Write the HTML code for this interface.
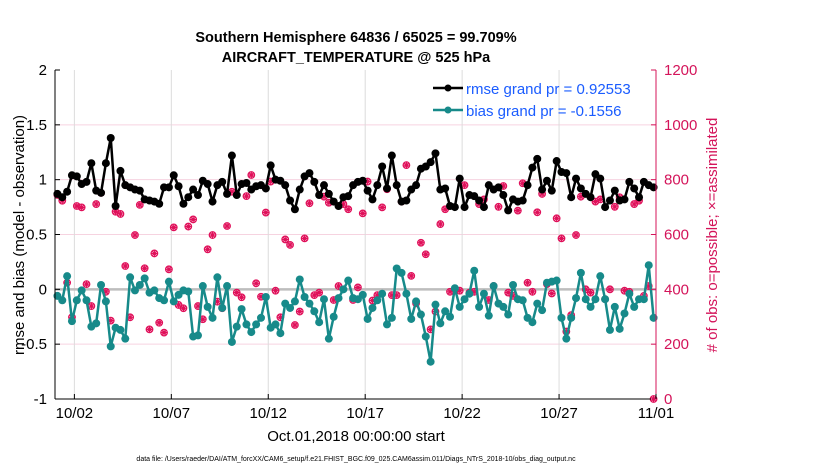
<!DOCTYPE html>
<html><head><meta charset="utf-8"><style>
body{margin:0;background:#fff;}
svg{display:block;font-family:"Liberation Sans",sans-serif;}
</style></head><body>
<svg id="chart" width="830" height="470" viewBox="0 0 830 470">
<text x="356" y="42" text-anchor="middle" font-size="14.5" font-weight="bold">Southern Hemisphere 64836 / 65025 = 99.709%</text>
<text x="356" y="62" text-anchor="middle" font-size="14.5" font-weight="bold">AIRCRAFT_TEMPERATURE @ 525 hPa</text>
<g id="grid"></g>
<g id="marks"></g>
<g id="axes"></g>
<text transform="translate(24,235) rotate(-90)" text-anchor="middle" font-size="15">rmse and bias (model - observation)</text>
<text transform="translate(717,235) rotate(-90)" text-anchor="middle" font-size="15" fill="#d4145a"># of obs: o=possible; ×=assimilated</text>
<text x="356" y="441" text-anchor="middle" font-size="15">Oct.01,2018 00:00:00 start</text>
<text x="356" y="461" text-anchor="middle" font-size="7">data file: /Users/raeder/DAI/ATM_forcXX/CAM6_setup/f.e21.FHIST_BGC.f09_025.CAM6assim.011/Diags_NTrS_2018-10/obs_diag_output.nc</text>
<g>
<line x1="433" y1="88" x2="463" y2="88" stroke="#000" stroke-width="2.5"/>
<circle cx="448" cy="88" r="3.5" fill="#000"/>
<text x="466" y="94" font-size="15" fill="#1a5cff">rmse grand pr = 0.92553</text>
<line x1="433" y1="110" x2="463" y2="110" stroke="#178a8a" stroke-width="2.5"/>
<circle cx="448" cy="110" r="3.5" fill="#178a8a"/>
<text x="466" y="116" font-size="15" fill="#1a5cff">bias grand pr = -0.1556</text>
</g>
</svg>
<script>
const rmse=[0.87,0.84,0.89,1.04,1.03,0.96,0.98,1.15,0.90,0.88,1.15,1.38,0.76,1.08,0.95,0.93,0.91,0.90,0.82,0.81,0.80,0.78,0.93,0.93,1.04,0.94,0.78,0.84,0.91,0.86,0.99,0.96,0.80,0.95,0.98,0.87,1.22,0.86,0.96,0.97,0.91,0.94,
0.95,0.92,1.13,1.00,0.99,0.95,0.81,0.73,0.91,1.03,1.06,0.98,0.86,0.95,0.87,0.80,0.76,0.84,0.85,0.95,0.98,0.99,0.90,0.82,0.95,1.12,0.92,1.22,0.95,0.80,0.81,0.91,0.95,1.10,1.12,1.16,1.24,0.91,0.92,0.76,0.75,1.01,
0.75,0.86,0.85,0.81,0.75,0.95,0.91,0.93,0.86,0.72,0.82,0.80,0.81,0.95,1.11,1.19,0.91,0.99,0.90,1.17,1.07,1.06,0.84,1.01,0.92,0.87,0.84,1.05,1.01,0.75,0.81,0.90,0.81,0.82,0.98,0.92,0.84,0.98,0.95,0.93];
const bias=[-0.06,-0.10,0.12,-0.29,-0.10,-0.01,-0.10,-0.34,-0.31,0.04,-0.11,-0.52,-0.35,-0.37,-0.45,0.11,-0.01,0.04,0.10,-0.03,-0.01,-0.08,-0.10,0.07,-0.11,-0.05,-0.01,-0.02,-0.43,-0.42,0.03,-0.16,-0.26,0.11,-0.17,0.03,-0.48,-0.34,-0.18,-0.32,-0.39,-0.32,
-0.26,-0.07,-0.35,-0.32,-0.40,-0.13,-0.17,-0.11,0.09,-0.07,-0.13,-0.20,-0.30,-0.09,-0.45,-0.25,-0.08,0.00,0.08,-0.08,-0.09,-0.05,-0.27,-0.17,-0.10,-0.04,-0.32,-0.26,0.19,0.15,-0.04,-0.27,-0.11,-0.23,-0.43,-0.66,-0.14,-0.31,-0.20,-0.25,0.01,-0.16,
-0.09,-0.04,0.17,-0.16,-0.04,-0.24,0.03,-0.13,-0.16,-0.23,0.04,-0.09,-0.10,-0.26,-0.30,-0.13,-0.19,0.06,0.07,0.08,-0.26,-0.45,-0.26,-0.08,0.15,-0.09,-0.16,-0.09,0.12,-0.09,-0.37,-0.16,-0.36,-0.22,-0.04,-0.16,-0.09,-0.09,0.22,-0.26];
const obsCount=[744,723,424,298,704,699,419,339,711,752,391,286,683,675,485,298,598,708,477,254,531,278,242,473,626,343,331,629,655,339,291,546,598,355,331,631,756,388,371,740,817,422,
373,680,793,395,298,582,562,270,319,586,714,379,388,738,716,361,412,711,692,361,407,677,793,359,379,699,765,379,379,720,853,449,349,570,528,254,319,638,692,391,398,
395,780,388,391,711,728,361,412,701,777,388,376,687,787,424,391,681,748,419,385,659,586,246,306,598,738,400,388,720,728,364,400,701,736,395,391,711,723,376,412,0];
const leftTicks=[-1,-0.5,0,0.5,1,1.5,2];
const leftTickLabels=["-1","-0.5","0","0.5","1","1.5","2"];
const rightTicks=[0,200,400,600,800,1000,1200];
const dayTicks=[1,6,11,16,21,26,31];
const dayTickLabels=["10/02","10/07","10/12","10/17","10/22","10/27","11/01"];

const NS="http://www.w3.org/2000/svg";
const X0=55,X1=656,Y0=399,Y1=70;
const xS=d=>X0+(d-0)/31*(X1-X0);
const yL=v=>Y0-(v+1)/3*(Y0-Y1);
const yR=c=>Y0-c/1200*(Y0-Y1);
const tOf=i=>(i+0.5)*0.25;
function mk(tag,attrs,parent){const e=document.createElementNS(NS,tag);for(const k in attrs)e.setAttribute(k,attrs[k]);parent.appendChild(e);return e;}
const grid=document.getElementById('grid'),marks=document.getElementById('marks'),axes=document.getElementById('axes');
rightTicks.forEach(c=>{if(c>0&&c<1200){const l=mk('line',{x1:X0,x2:X1,y1:yR(c),y2:yR(c),stroke:'#f6d3e0','stroke-width':1},grid);

}});
dayTicks.forEach(d=>{const l=mk('line',{x1:xS(d),x2:xS(d),y1:Y1,y2:Y0,stroke:'#dcdcdc','stroke-width':1},grid);

});
const zl=mk('line',{x1:X0,x2:X1,y1:yL(0),y2:yL(0),stroke:'#bdbdbd','stroke-width':2.5},grid);


// obs
obsCount.forEach((c,i)=>{const x=i<124?xS(tOf(i)):xS(31),y=yR(c);
const g=mk('g',{stroke:'#e0105a',fill:'none','stroke-width':1.2},marks);


mk('circle',{cx:x,cy:y,r:3.3},g);
mk('path',{d:`M${x-3.3} ${y}H${x+3.3}M${x} ${y-3.3}V${y+3.3}M${x-2.3} ${y-2.3}L${x+2.3} ${y+2.3}M${x-2.3} ${y+2.3}L${x+2.3} ${y-2.3}`},g);});
function series(vals,color,name){
const p=mk('polyline',{points:vals.map((v,i)=>xS(tOf(i))+','+yL(v)).join(' '),fill:'none',stroke:color,'stroke-width':2.5,'stroke-linejoin':'round'},marks);


vals.forEach((v,i)=>{const c=mk('circle',{cx:xS(tOf(i)),cy:yL(v),r:4,fill:color},marks);

});}
series(bias,'#178a8a','bias');
series(rmse,'#000','rmse');
// axes
const la=mk('line',{x1:X0,x2:X0,y1:Y1,y2:Y0,stroke:'#000','stroke-width':1},axes);


const ba=mk('line',{x1:X0,x2:X1,y1:Y0,y2:Y0,stroke:'#000','stroke-width':1},axes);


const ra=mk('line',{x1:X1,x2:X1,y1:Y1,y2:Y0,stroke:'#d4145a','stroke-width':1},axes);


leftTicks.forEach((v,i)=>{mk('line',{x1:X0,x2:X0+5,y1:yL(v),y2:yL(v),stroke:'#000'},axes);
const t=mk('text',{x:X0-8,y:yL(v)+5,'text-anchor':'end','font-size':15},axes);t.textContent=leftTickLabels[i];

});
rightTicks.forEach(c=>{mk('line',{x1:X1-5,x2:X1,y1:yR(c),y2:yR(c),stroke:'#d4145a'},axes);
const t=mk('text',{x:X1+8,y:yR(c)+5,'font-size':15,fill:'#d4145a'},axes);t.textContent=String(c);

});
dayTicks.forEach((d,i)=>{mk('line',{x1:xS(d),x2:xS(d),y1:Y0,y2:Y0-5,stroke:'#000'},axes);
const t=mk('text',{x:xS(d),y:Y0+19,'text-anchor':'middle','font-size':15},axes);t.textContent=dayTickLabels[i];

});
</script>
</body></html>
